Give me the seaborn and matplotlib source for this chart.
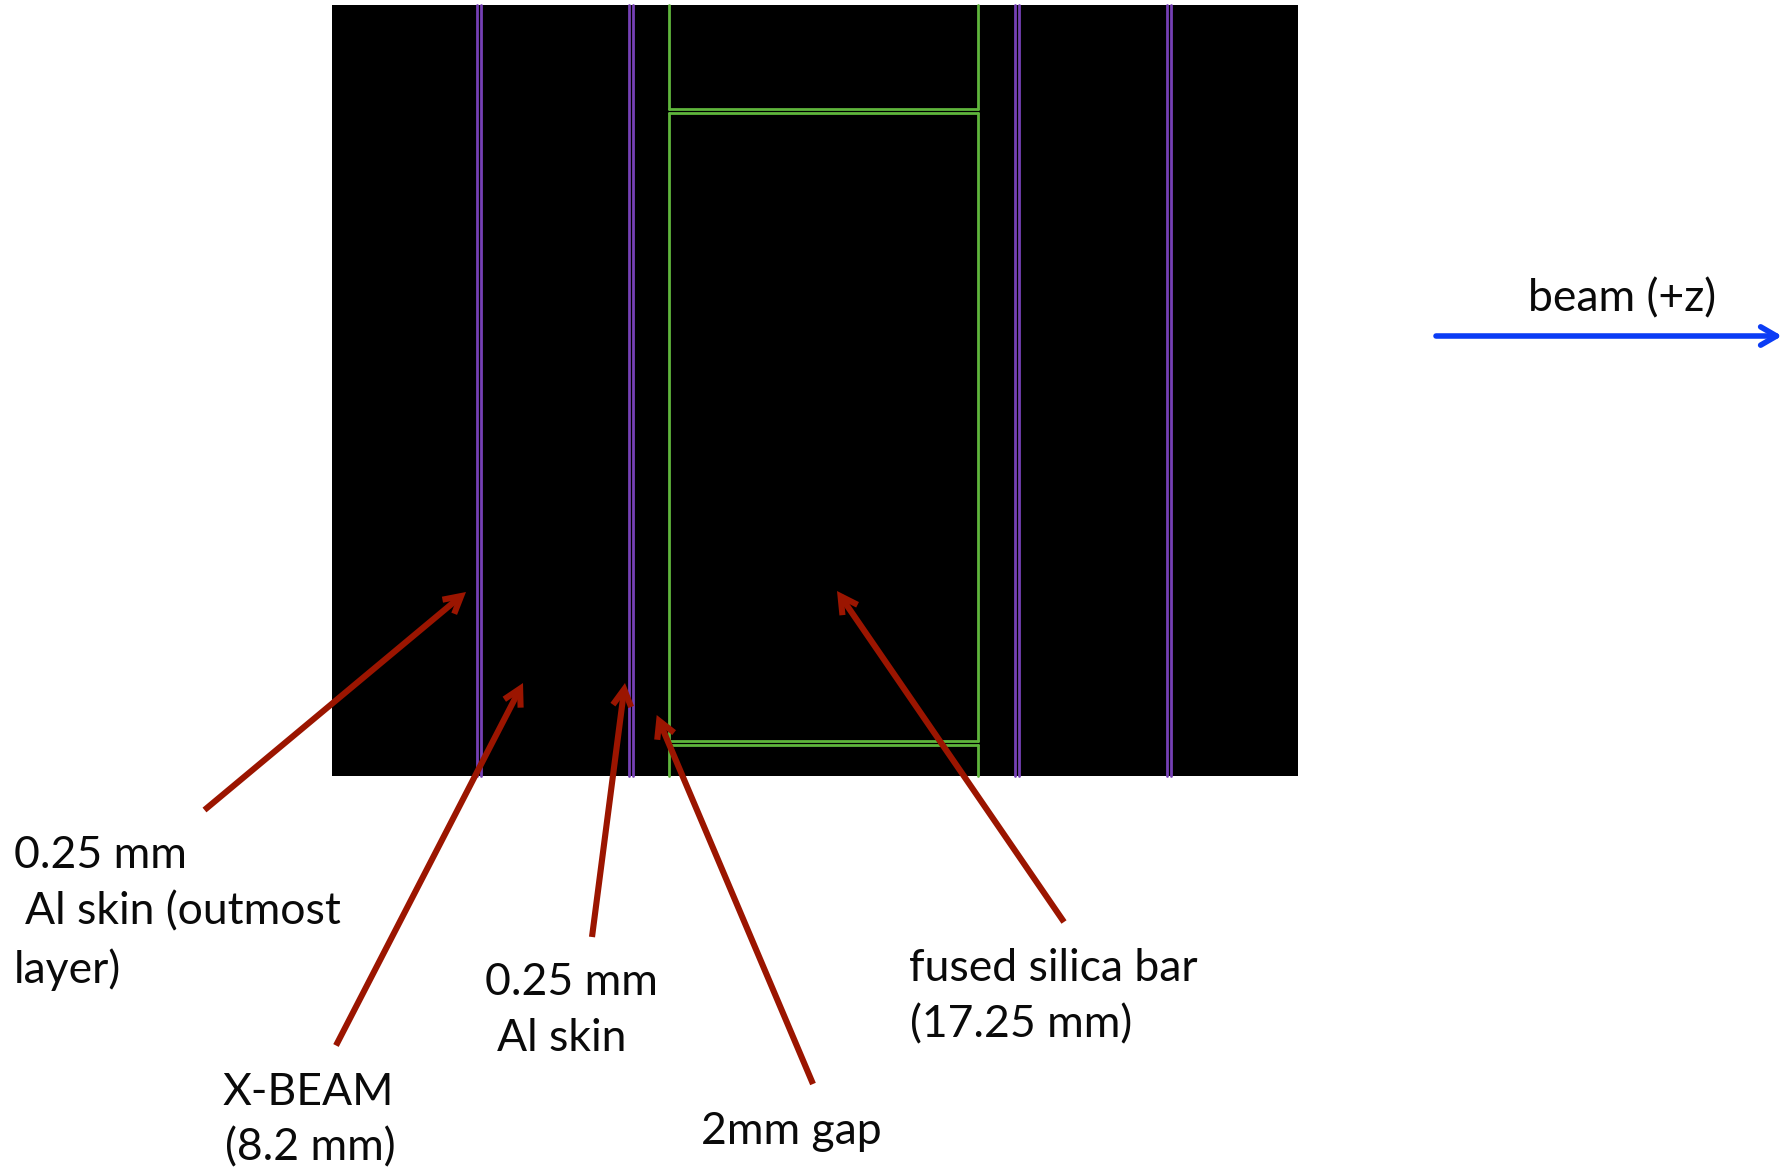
import matplotlib
matplotlib.use("Agg")
import matplotlib.pyplot as plt
import pandas as pd
import seaborn as sns

# Geometry, expressed in image pixel units
panel_x = [332, 1298]
panel_top = 5
panel_bottom = 776
purple_x = [477, 481, 628.5, 632.5, 1015, 1019, 1167, 1171]
green_x = [669, 978]
green_y = [108.5, 113, 740.5, 744.5]

arrow_from = [(204.5, 810), (336, 1045.5), (592, 937), (813, 1084), (1064, 922)]
arrow_to = [(466, 592), (523, 683), (625, 683), (656.7, 715), (837, 591)]
beam_from = (1436, 336)
beam_to = (1782, 336)

labels = ["0.25 mm", "Al skin (outmost", "layer)", "X-BEAM", "(8.2 mm)",
          "0.25 mm", "Al skin", "2mm gap", "fused silica bar", "(17.25 mm)", "beam (+z)"]
label_x = [14, 25, 14, 223, 225, 485, 497, 701, 909, 910, 1528]
label_y = [868, 924, 983, 1105, 1160, 995, 1051, 1144, 981, 1037, 311]

sns.set_theme(style="white")
plt.rcParams["font.family"] = ["Lato", "DejaVu Sans"]

fig = plt.figure(figsize=(17.88, 11.68), dpi=100, facecolor="white")
ax = fig.add_axes([0, 0, 1, 1])
ax.fill_between(panel_x, panel_top, panel_bottom, color="black", lw=0, zorder=1)

rows = []
for i, x in enumerate(purple_x):
    rows += [dict(x=x, y=panel_top, seg=f"p{i}", kind="skin"),
             dict(x=x, y=panel_bottom, seg=f"p{i}", kind="skin")]
for i, x in enumerate(green_x):
    for j, (y0, y1) in enumerate([(panel_top, green_y[0]), (green_y[1], green_y[2]), (green_y[3], panel_bottom)]):
        rows += [dict(x=x, y=y0, seg=f"gv{i}{j}", kind="bar"),
                 dict(x=x, y=y1, seg=f"gv{i}{j}", kind="bar")]
for i, y in enumerate(green_y):
    rows += [dict(x=green_x[0], y=y, seg=f"gh{i}", kind="bar"),
             dict(x=green_x[1], y=y, seg=f"gh{i}", kind="bar")]
lines = pd.DataFrame(rows)

sns.lineplot(data=lines, x="x", y="y", hue="kind", units="seg", estimator=None, sort=False,
             palette={"skin": "#7540B5", "bar": "#5FB53C"}, linewidth=2.0, legend=False, ax=ax, zorder=2)
ax.set_xlim(0, 1788)
ax.set_ylim(1168, 0)
ax.axis("off")

red = "#9B1500"
for a, b in zip(arrow_from, arrow_to):
    ax.annotate("", xy=b, xytext=a, zorder=4,
                arrowprops=dict(arrowstyle="->,head_length=1.0,head_width=0.55", color=red, lw=4.4,
                                shrinkA=0, shrinkB=0, capstyle="butt", joinstyle="miter"))
ax.annotate("", xy=beam_to, xytext=beam_from, zorder=4,
            arrowprops=dict(arrowstyle="->,head_length=0.95,head_width=0.55", color="#0B3CF5", lw=4.0,
                            shrinkA=0, shrinkB=0))

for s, x, y in zip(labels, label_x, label_y):
    ax.text(x, y, s, fontsize=32, color="#0A0A0A", ha="left", va="baseline", zorder=5)

fig.savefig("out.png", dpi=100, facecolor="white")
